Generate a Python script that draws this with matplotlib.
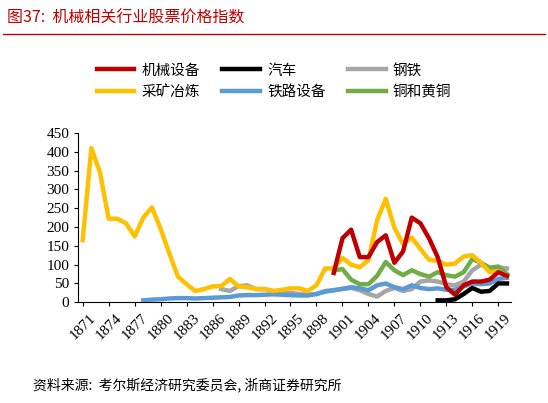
import matplotlib
matplotlib.use('Agg')
import matplotlib.pyplot as plt
import numpy as np

plt.rcParams['font.family'] = ['Noto Sans CJK SC', 'DejaVu Sans']

years_mining = list(range(1871, 1921))
mining = [165, 410, 345, 222, 222, 210, 175, 225, 252, 195, 130, 68, 48, 30, 35, 42, 43, 62, 42, 40,
          35, 35, 30, 33, 37, 37, 30, 45, 90, 90, 118, 100, 93, 112, 218, 275, 198, 155, 172, 142,
          113, 110, 100, 103, 122, 125, 105, 80, 82, 70]
years_rail = list(range(1878, 1921))
rail = [5, 7, 8, 10, 11, 11, 10, 11, 12, 13, 14, 18, 19, 19, 20, 21, 20, 19, 18, 18, 22, 28, 32, 36,
        40, 37, 32, 45, 50, 40, 35, 45, 38, 35, 37, 33, 33, 42, 50, 48, 50, 62, 65]
years_steel = list(range(1887, 1921))
steel = [35, 30, 43, 45, 35, 35, 30, 25, 25, 22, 20, 22, 30, 32, 35, 38, 32, 22, 15, 30, 38, 30, 35,
         55, 58, 55, 48, 45, 55, 85, 100, 90, 93, 90]
years_mach = list(range(1900, 1921))
machinery = [78, 170, 193, 120, 120, 160, 178, 105, 135, 225, 210, 170, 120, 40, 20, 45, 55, 55, 60, 80, 70]
years_car = list(range(1912, 1921))
car = [5, 5, 8, 22, 38, 28, 30, 50, 50]
years_copper = list(range(1900, 1921))
copper = [85, 88, 60, 48, 48, 70, 107, 85, 72, 85, 75, 68, 80, 72, 68, 80, 115, 105, 92, 95, 75]

fig = plt.figure(figsize=(5.48, 4.03), dpi=100)
ax = fig.add_axes([0.143, 0.25, 0.79, 0.42])

lw = 3.2
h_mach, = ax.plot(years_mach, machinery, color='#C00000', lw=lw, label='机械设备', zorder=5)
h_car, = ax.plot(years_car, car, color='#000000', lw=lw, label='汽车', zorder=6)
h_steel, = ax.plot(years_steel, steel, color='#A6A6A6', lw=lw, label='钢铁', zorder=2)
h_min, = ax.plot(years_mining, mining, color='#FFC000', lw=lw, label='采矿冶炼', zorder=4)
h_rail, = ax.plot(years_rail, rail, color='#5B9BD5', lw=lw, label='铁路设备', zorder=3)
h_cop, = ax.plot(years_copper, copper, color='#70AD47', lw=lw, label='铜和黄铜', zorder=3)

ax.set_xlim(1870.5, 1920.5)
ax.set_ylim(0, 450)
ax.set_yticks(range(0, 451, 50))
ax.set_xticks(range(1871, 1920, 3))
ax.tick_params(axis='x', rotation=45, length=3, labelsize=11)
ax.tick_params(axis='y', length=3, labelsize=11)
for lab in ax.get_xticklabels() + ax.get_yticklabels():
    lab.set_family('Liberation Serif')
for s in ['top', 'right']:
    ax.spines[s].set_visible(False)

# matplotlib fills legend by column, so order handles to read row-wise
handles = [h_mach, h_min, h_car, h_rail, h_steel, h_cop]
fig.legend(handles=handles, labels=[h.get_label() for h in handles],
           loc='upper center', bbox_to_anchor=(0.5, 0.875), ncol=3, frameon=False,
           fontsize=10.5, handlelength=2.6, columnspacing=1.5, handletextpad=0.5)

fig.text(0.012, 0.955, '图37:  机械相关行业股票价格指数', color='#C00000', fontsize=11.5, va='center')
fig.add_artist(plt.Line2D([0.005, 0.995], [0.915, 0.915], color='#C00000', lw=1))
fig.text(0.06, 0.045, '资料来源:  考尔斯经济研究委员会, 浙商证券研究所', fontsize=10, va='center')

fig.savefig('out.png', dpi=100)
